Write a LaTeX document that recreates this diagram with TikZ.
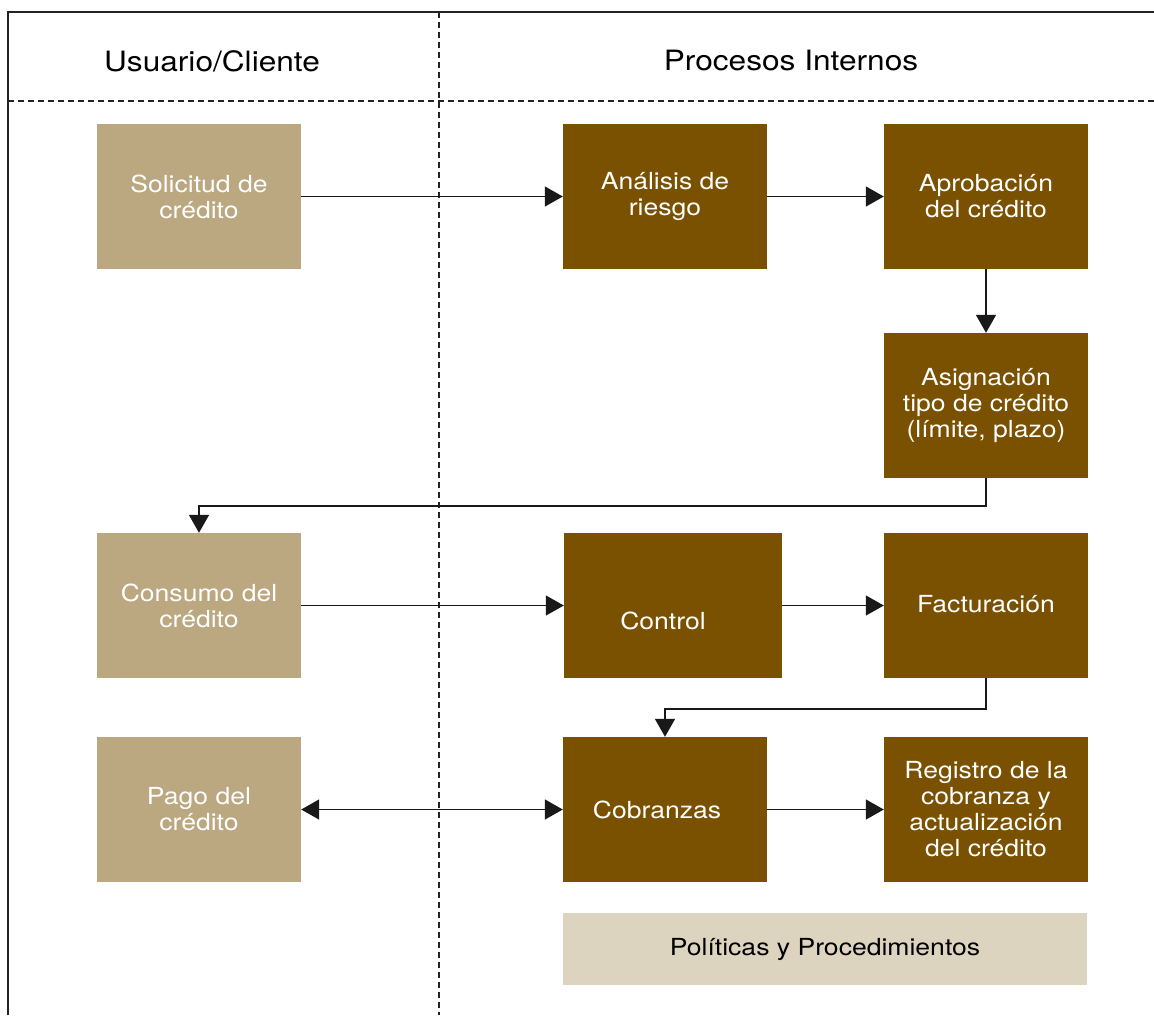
\documentclass[tikz,border=0pt]{standalone}
\usepackage{fontspec}
\setmainfont[FakeStretch=1.13]{TeX Gyre Heros}
\usetikzlibrary{arrows.meta}
\definecolor{tanbox}{HTML}{BBA780}
\definecolor{darkbox}{HTML}{7A5100}
\definecolor{polbox}{HTML}{DDD4BF}
\definecolor{framec}{HTML}{222222}
\begin{document}
\begin{tikzpicture}[x=1pt,y=-1pt,
  userbox/.style={rectangle,fill=tanbox,minimum width=204pt,minimum height=145pt,inner sep=0pt,
    text=white,align=center,font=\fontsize{23.5}{26}\selectfont},
  procbox/.style={rectangle,fill=darkbox,minimum width=204pt,minimum height=145pt,inner sep=0pt,
    text=white,align=center,font=\fontsize{23.5}{26}\selectfont},
  head/.style={font=\fontsize{28}{32}\selectfont,text=black},
  conn/.style={line width=1.5pt,draw=black!90,-{Triangle[length=18pt,width=20pt]}},
  lane/.style={line width=1.3pt,draw=framec,dash pattern=on 6pt off 4pt},
  frame/.style={line width=1.4pt,draw=framec}]
\useasboundingbox (0,0) rectangle (1154,1015);
% frame and lanes
\coordinate (tl) at (8,12);
\coordinate (tr) at (1154,12);
\coordinate (bl) at (8,1015);
\coordinate (hl) at (8,101);
\coordinate (hr) at (1154,101);
\coordinate (vt) at (439,12);
\coordinate (vb) at (439,1015);
\draw[frame] (bl) -- (tl) -- (tr);
\draw[lane] (hl) -- (hr);
\draw[lane] (vt) -- (vb);
\node[head] (h1) at (212,61) {Usuario/Cliente};
\node[head] (h2) at (791,61) {Procesos Internos};
% boxes
\node[userbox] (sol) at (199,196.5) {Solicitud de\\crédito};
\node[procbox] (ana) at (665,196.5) {Análisis de\\riesgo};
\node[procbox] (apr) at (986,196.5) {Aprobación\\del crédito};
\node[procbox] (asi) at (986,405.5) {Asignación\\tipo de crédito\\(límite, plazo)};
\node[userbox] (con) at (199,605.5) {Consumo del\\crédito};
\node[procbox,minimum width=218pt] (ctl) at (673,605.5) {};
\node[text=white,font=\fontsize{23.5}{26}\selectfont] (ctltxt) at (663,621) {Control};
\node[procbox] (fac) at (986,605.5) {\raisebox{3pt}{Facturación}};
\node[userbox] (pag) at (199,809.5) {Pago del\\crédito};
\node[procbox] (cob) at (665,809.5) {\hspace*{-16pt}Cobranzas};
\node[procbox] (reg) at (986,809.5) {Registro de la\\cobranza y\\actualización\\del crédito};
\node[rectangle,fill=polbox,minimum width=524pt,minimum height=72pt,inner sep=0pt,
  font=\fontsize{23.5}{26}\selectfont,text=black] (pol) at (825,949) {Políticas y Procedimientos};
% connectors
\draw[conn] (sol.east) -- (ana.west);
\draw[conn] (ana.east) -- (apr.west);
\draw[conn] (apr.south) -- (asi.north);
\draw[conn] (asi.south) -- ++(0,28) -| (con.north);
\draw[conn] (con.east) -- (ctl.west);
\draw[conn] (ctl.east) -- (fac.west);
\draw[conn] (fac.south) -- ++(0,31) -| (cob.north);
\draw[conn,{Triangle[length=18pt,width=20pt]}-{Triangle[length=18pt,width=20pt]}] (pag.east) -- (cob.west);
\draw[conn] (cob.east) -- (reg.west);
\end{tikzpicture}
\end{document}
